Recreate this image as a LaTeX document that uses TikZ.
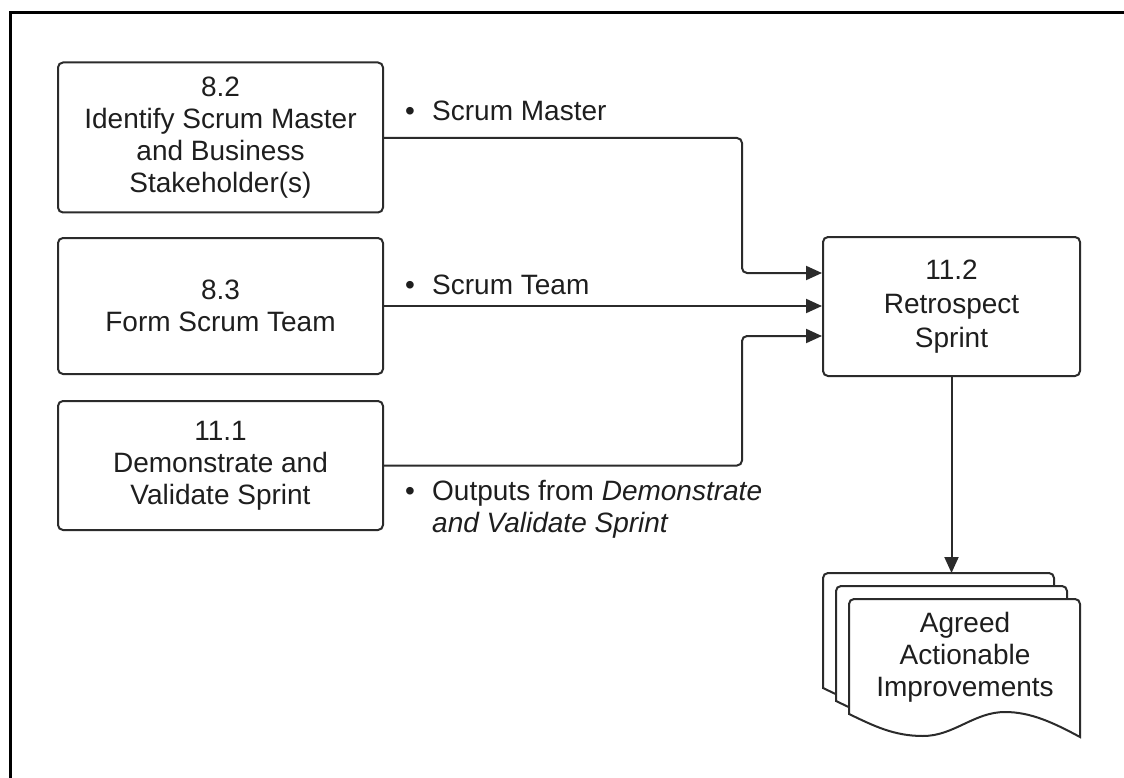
\documentclass[tikz,border=0pt]{standalone}
\usepackage{fontspec}
\setmainfont{Liberation Sans}
\usetikzlibrary{arrows.meta}
\definecolor{inkline}{HTML}{2B2B2B}
\definecolor{inktext}{HTML}{1E1E1E}
\begin{document}
\begin{tikzpicture}[x=1pt,y=-1pt,
    txt/.style={font=\fontsize{28}{32}\selectfont, text=inktext},
    procbox/.style={txt, draw=inkline, line width=2pt, rounded corners=5pt, align=center, inner sep=0pt},
    conn/.style={draw=inkline, line width=2pt, rounded corners=5pt, -{Triangle[length=16pt,width=14pt]}},
    flowlabel/.style={txt, anchor=base west, inner sep=0pt},
    docline/.style={draw=inkline, line width=2pt, fill=white}]
    \useasboundingbox (0,0) rectangle (1124,778);
    \draw[line width=3pt] (1140,13) -- (10,13) -- (10,800);
    % process boxes
    \node[procbox, minimum width=325pt, minimum height=150pt] (sm) at (220.5,137.5) {8.2\\Identify Scrum Master\\and Business\\Stakeholder(s)};
    \node[procbox, minimum width=325pt, minimum height=136pt] (st) at (220.5,306) {8.3\\Form Scrum Team};
    \node[procbox, minimum width=325pt, minimum height=129pt] (dv) at (220.5,465.5) {11.1\\Demonstrate and\\Validate Sprint};
    \node[procbox, minimum width=257pt, minimum height=139pt, font=\fontsize{28}{34}\selectfont] (retro) at (951.5,306.5) {11.2\\Retrospect\\Sprint};
    % output documents
    \foreach \dx/\dy in {823/573, 836/586, 849/599} {
        \draw[docline, shift={(\dx,\dy)}] (0,115) [rounded corners=5pt] -- (0,0) -- (231,0) [sharp corners] -- (231,138)
            .. controls (205,124) and (182,113) .. (156,113)
            .. controls (125,113) and (105,137) .. (74,137)
            .. controls (45,137) and (25,127) .. (0,115) -- cycle;
    }
    \node[txt, align=center] (aai) at (965,657) {Agreed\\Actionable\\Improvements};
    \coordinate (stacktop) at (951.5,573);
    % connectors
    \coordinate (jx) at (742,0);
    \coordinate (in1) at ([yshift=33.5pt]retro.west);
    \coordinate (in3) at ([yshift=-29.5pt]retro.west);
    \draw[conn] (sm.east |- 0,138) -| (jx |- in1) -- (in1);
    \draw[conn] (st.east) -- (st.east -| retro.west);
    \draw[conn] (dv.east) -| (jx |- in3) -- (in3);
    \draw[conn] (retro.south) -- (retro.south |- stacktop);
    % flow labels
    \node[flowlabel] (lsm) at (405,121) {\begin{tabular}[t]{@{}p{27pt}@{}l@{}}•&Scrum Master\end{tabular}};
    \node[flowlabel] (lst) at (405,294) {\begin{tabular}[t]{@{}p{27pt}@{}l@{}}•&Scrum Team\end{tabular}};
    \node[flowlabel] (ldv) at (405,500) {\begin{tabular}[t]{@{}p{27pt}@{}l@{}}•&Outputs from \textit{Demonstrate}\\&\textit{and Validate Sprint}\end{tabular}};
\end{tikzpicture}
\end{document}
